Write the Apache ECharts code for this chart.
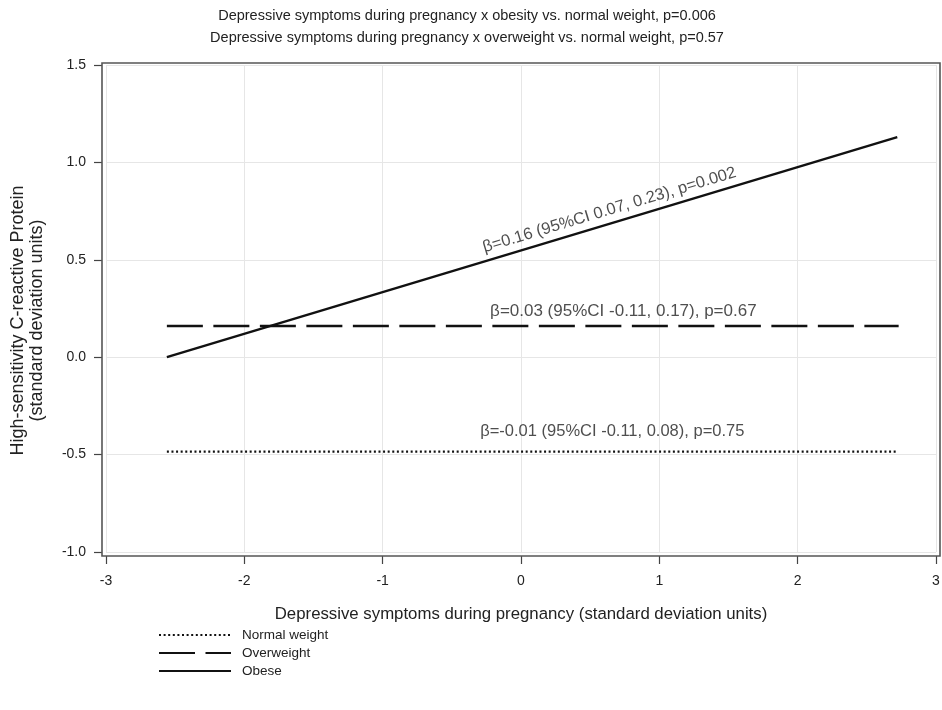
<!DOCTYPE html>
<html>
<head>
<meta charset="utf-8">
<script src="https://cdn.jsdelivr.net/npm/echarts@6/dist/echarts.min.js"></script>
<style>html,body{margin:0;padding:0;background:#fff}#c{width:942px;height:710px}</style>
</head>
<body>
<div id="c"></div>
<script>
const titleLines = [
  "Depressive symptoms during pregnancy x obesity vs. normal weight, p=0.006",
  "Depressive symptoms during pregnancy x overweight vs. normal weight, p=0.57"
];
const xName = "Depressive symptoms during pregnancy (standard deviation units)";
const yName = "High-sensitivity C-reactive Protein\n(standard deviation units)";
const seriesNames = ["Normal weight", "Overweight", "Obese"];
const normalLine = [[-2.56, -0.485], [2.72, -0.485]];
const overLine = [[-2.56, 0.16], [2.73, 0.16]];
const obeseLine = [[-2.56, 0.0], [2.72, 1.13]];
const annotTexts = [
  "β=-0.01 (95%CI -0.11, 0.08), p=0.75",
  "β=0.03 (95%CI -0.11, 0.17), p=0.67",
  "β=0.16 (95%CI 0.07, 0.23), p=0.002"
];
const annotPos = [[0.66, -0.38], [0.74, 0.235], [0.64, 0.755]];
const xTicks = [-3, -2, -1, 0, 1, 2, 3];
const yTicks = [-1.0, -0.5, 0.0, 0.5, 1.0, 1.5];

const FONT = "Liberation Sans";
const TXT = "#222";
const chart = echarts.init(document.getElementById('c'), null, {renderer: 'canvas'});
const lineBase = {type: 'line', symbol: 'none', showSymbol: false, silent: true, z: 3, animation: false};
function annot(i, rot, size) {
  return {
    type: 'scatter', silent: true, symbolSize: 0, animation: false, z: 4,
    data: [annotPos[i]],
    label: {show: true, position: 'inside', formatter: annotTexts[i], rotate: rot,
      color: TXT, fontFamily: FONT, fontSize: size}
  };
}
const legendRowsTop = [623, 641, 659];
const legends = seriesNames.map((n, i) => ({
  orient: 'vertical', left: 153, top: legendRowsTop[i], itemWidth: 72, itemHeight: 12,
  data: [n], selectedMode: false,
  textStyle: {fontFamily: FONT, fontSize: 13.5, color: TXT, padding: [0, 0, 0, 6]},
  itemStyle: {opacity: 0},
  lineStyle: {inherit: true}
}));
chart.setOption({
  animation: false,
  backgroundColor: '#fff',
  title: {
    text: titleLines.join('\n'), left: 462, top: 0, textAlign: 'center',
    textStyle: {fontFamily: FONT, fontSize: 14.5, fontWeight: 'normal', color: TXT, lineHeight: 22}
  },
  grid: {left: 106, right: 6, top: 65, bottom: 158, show: false, outerBoundsMode: 'none', containLabel: false},
  xAxis: {
    type: 'value', min: -3, max: 3, interval: 1, offset: 4,
    name: xName, nameLocation: 'middle', nameGap: 50,
    nameTextStyle: {fontFamily: FONT, fontSize: 16.8, color: TXT},
    axisLine: {show: false, onZero: false},
    axisTick: {show: true, length: 8, lineStyle: {color: '#444', width: 1.2}},
    axisLabel: {fontFamily: FONT, fontSize: 14, color: TXT, margin: 18,
      formatter: v => xTicks.includes(v) ? String(v) : ''},
    splitLine: {show: true, lineStyle: {color: '#e6e6e6', width: 1}}
  },
  yAxis: {
    type: 'value', min: -1, max: 1.5, interval: 0.5, offset: 4,
    name: yName, nameLocation: 'middle', nameGap: 55, nameRotate: 90,
    nameTextStyle: {fontFamily: FONT, fontSize: 18, color: TXT, lineHeight: 19, padding: [0, 24, 0, 0]},
    axisLine: {show: false, onZero: false},
    axisTick: {show: true, length: 8, lineStyle: {color: '#444', width: 1.2}},
    axisLabel: {fontFamily: FONT, fontSize: 14, color: TXT, margin: 16,
      formatter: v => yTicks.some(t => Math.abs(t - v) < 1e-9) ? v.toFixed(1) : ''},
    splitLine: {show: true, lineStyle: {color: '#e6e6e6', width: 1}}
  },
  legend: legends,
  graphic: [{
    type: 'rect', silent: true, z: 1,
    shape: {x: 102, y: 63, width: 838, height: 493},
    style: {fill: 'none', stroke: '#555', lineWidth: 1.6}
  }],
  series: [
    Object.assign({}, lineBase, {name: seriesNames[0], data: normalLine,
      lineStyle: {color: '#111', width: 2.2, type: [2, 2.6]}, itemStyle: {color: '#111'}}),
    Object.assign({}, lineBase, {name: seriesNames[1], data: overLine,
      lineStyle: {color: '#111', width: 2.4, type: [36, 10.5]}, itemStyle: {color: '#111'}}),
    Object.assign({}, lineBase, {name: seriesNames[2], data: obeseLine,
      lineStyle: {color: '#111', width: 2.4, type: 'solid'}, itemStyle: {color: '#111'}}),
    annot(0, 0, 16.5),
    annot(1, 0, 17),
    annot(2, 16.7, 16.5)
  ]
});
</script>
</body>
</html>
